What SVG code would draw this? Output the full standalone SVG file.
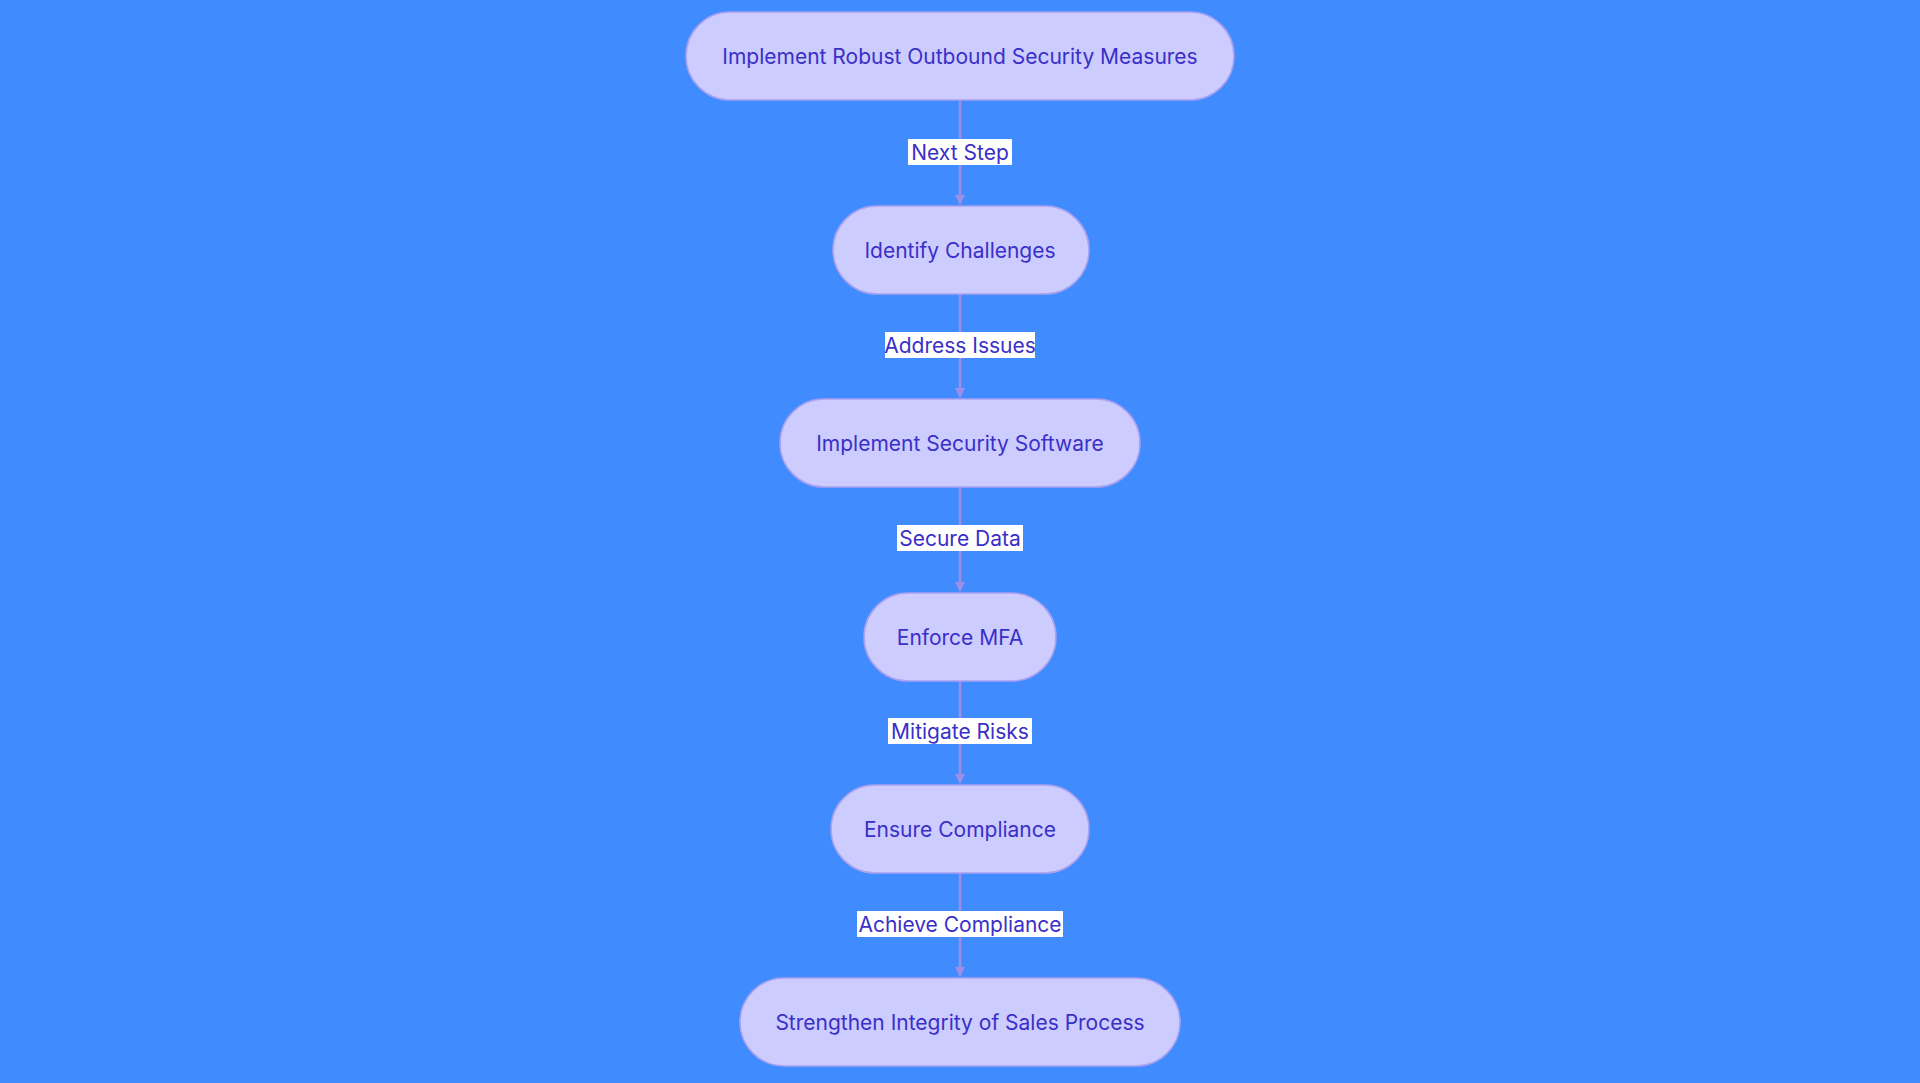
<svg xmlns="http://www.w3.org/2000/svg" width="1920" height="1083" viewBox="0 0 1920 1083">
<style>
.n rect{fill:#ccccff;stroke:#a9a0f0;stroke-width:1.5}
.n text,.l text{font-family:Inter,"Open Sans",sans-serif;font-size:21px;fill:#3a2fc8;text-anchor:middle;dominant-baseline:central}
.e{stroke:#9d8fe8;stroke-width:2.5;fill:none;marker-end:url(#a)}
.l rect{fill:#fff}
</style>
<defs><marker id="a" markerWidth="10" markerHeight="10" refX="9" refY="5" orient="auto" markerUnits="userSpaceOnUse" viewBox="0 0 10 10"><path d="M0,0L10,5L0,10z" fill="#9d8fe8"/></marker></defs>
<rect width="1920" height="1083" fill="#408cff"/>
<g id="edges">
<path class="e" d="M960,100V204"/><path class="e" d="M960,294V397"/><path class="e" d="M960,487V591"/><path class="e" d="M960,681V783"/><path class="e" d="M960,873V976"/>
</g>
<g class="l">
<rect x="908" y="139" width="104" height="26"/><text x="960" y="152">Next Step</text>
<rect x="885" y="332" width="150" height="26"/><text x="960" y="345">Address Issues</text>
<rect x="897" y="525" width="126" height="26"/><text x="960" y="538">Secure Data</text>
<rect x="888" y="718" width="144" height="26"/><text x="960" y="731">Mitigate Risks</text>
<rect x="857" y="911" width="206" height="26"/><text x="960" y="924">Achieve Compliance</text>
</g>
<g id="n1" class="n"><rect x="686" y="12" width="548" height="88" rx="44"/><text x="960" y="56">Implement Robust Outbound Security Measures</text></g>
<g id="n2" class="n"><rect x="833" y="206" width="256" height="88" rx="44"/><text x="960" y="250">Identify Challenges</text></g>
<g id="n3" class="n"><rect x="780" y="399" width="360" height="88" rx="44"/><text x="960" y="443">Implement Security Software</text></g>
<g id="n4" class="n"><rect x="864" y="593" width="192" height="88" rx="44"/><text x="960" y="637">Enforce MFA</text></g>
<g id="n5" class="n"><rect x="831" y="785" width="258" height="88" rx="44"/><text x="960" y="829">Ensure Compliance</text></g>
<g id="n6" class="n"><rect x="740" y="978" width="440" height="88" rx="44"/><text x="960" y="1022">Strengthen Integrity of Sales Process</text></g>
</svg>
